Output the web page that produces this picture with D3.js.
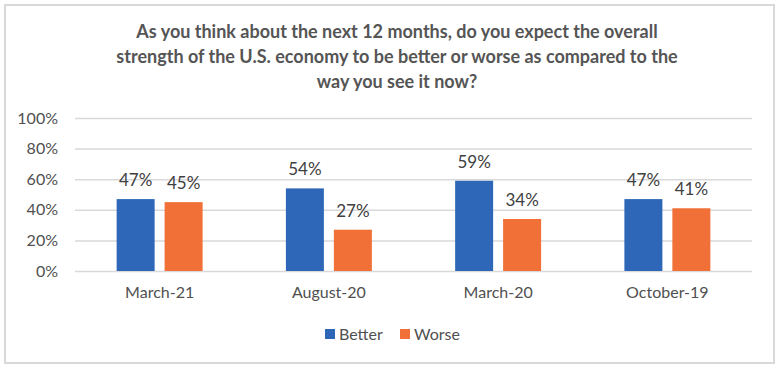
<!DOCTYPE html>
<html>
<head>
<meta charset="utf-8">
<script src="https://cdn.jsdelivr.net/npm/d3@7"></script>
<style>
  body { margin: 0; background: #fff; }
  svg { display: block; }
  text { font-family: Lato, "Open Sans", sans-serif; }
</style>
</head>
<body>
<div class="container"></div>
<script>
const categories = ['March-21', 'August-20', 'March-20', 'October-19'];
const better = [47, 54, 59, 47];
const worse = [45, 27, 34, 41];
const seriesNames = ['Better', 'Worse'];
const yTicks = [0, 20, 40, 60, 80, 100];
const titleLines = [
  'As you think about the next 12 months, do you expect the overall',
  'strength of the U.S. economy to be better or worse as compared to the',
  'way you see it now?'
];

const width = 780;
const height = 368;
const colors = { Better: '#2F67B8', Worse: '#F07037' };

const svg = d3.select('.container')
  .append('svg')
  .attr('width', width)
  .attr('height', height);

// outer frame
svg.append('rect')
  .attr('x', 5).attr('y', 5)
  .attr('width', 769).attr('height', 358)
  .attr('fill', '#fff')
  .attr('stroke', '#d9d9d9')
  .attr('stroke-width', 2);

// title
svg.append('g')
  .selectAll('text')
  .data(titleLines)
  .join('text')
  .attr('x', 397)
  .attr('y', (d, i) => 38 + i * 25)
  .attr('text-anchor', 'middle')
  .attr('font-size', 18)
  .attr('font-weight', 'bold')
  .attr('fill', '#555555')
  .text(d => d);

const plotLeft = 75, plotRight = 752, plotTop = 118, plotBottom = 271;

const x0 = d3.scaleBand()
  .domain(categories)
  .range([plotLeft, plotRight])
  .paddingInner(0.492)
  .paddingOuter(0.246);

const x1 = d3.scaleBand()
  .domain(seriesNames)
  .range([0, x0.bandwidth()])
  .paddingInner(0.208);

const y = d3.scaleLinear().domain([0, 100]).range([plotBottom, plotTop]);

// gridlines + y labels
const yAxis = d3.axisLeft(y)
  .tickValues(yTicks)
  .tickSize(-(plotRight - plotLeft))
  .tickPadding(17)
  .tickFormat(d => d + '%');

svg.append('g')
  .attr('transform', `translate(${plotLeft},0)`)
  .call(yAxis)
  .call(g => g.select('.domain').remove())
  .call(g => g.selectAll('.tick line').attr('stroke', '#d9d9d9').attr('stroke-width', 1.5))
  .call(g => g.selectAll('.tick text')
    .attr('font-size', 16)
    .attr('fill', '#505050')
    .attr('font-family', 'Lato, sans-serif'));

// x labels
const xAxis = d3.axisBottom(x0).tickSize(0).tickPadding(16);
svg.append('g')
  .attr('transform', `translate(0,${plotBottom})`)
  .call(xAxis)
  .call(g => g.select('.domain').remove())
  .call(g => g.selectAll('.tick text')
    .attr('font-size', 16)
    .attr('fill', '#505050')
    .attr('font-family', 'Lato, sans-serif'));

const rows = categories.map((c, i) => ({
  cat: c,
  values: [
    { key: 'Better', value: better[i] },
    { key: 'Worse', value: worse[i] }
  ]
}));

const groups = svg.append('g')
  .selectAll('g')
  .data(rows)
  .join('g')
  .attr('transform', d => `translate(${x0(d.cat)},0)`);

groups.selectAll('rect')
  .data(d => d.values)
  .join('rect')
  .attr('x', d => x1(d.key))
  .attr('y', d => y(d.value))
  .attr('width', x1.bandwidth())
  .attr('height', d => y(0) - y(d.value))
  .attr('fill', d => colors[d.key]);

groups.selectAll('text.lbl')
  .data(d => d.values)
  .join('text')
  .attr('class', 'lbl')
  .attr('x', d => x1(d.key) + x1.bandwidth() / 2)
  .attr('y', d => y(d.value) - 13)
  .attr('text-anchor', 'middle')
  .attr('font-size', 17)
  .attr('fill', '#404040')
  .text(d => d.value + '%');

// legend
const legendX = [325, 400];
const legend = svg.append('g')
  .selectAll('g')
  .data(seriesNames)
  .join('g')
  .attr('transform', (d, i) => `translate(${legendX[i]},329)`);

legend.append('rect')
  .attr('width', 10).attr('height', 10)
  .attr('fill', d => colors[d]);

legend.append('text')
  .attr('x', 14)
  .attr('y', 11)
  .attr('font-size', 16)
  .attr('fill', '#505050')
  .text(d => d);
</script>
</body>
</html>
